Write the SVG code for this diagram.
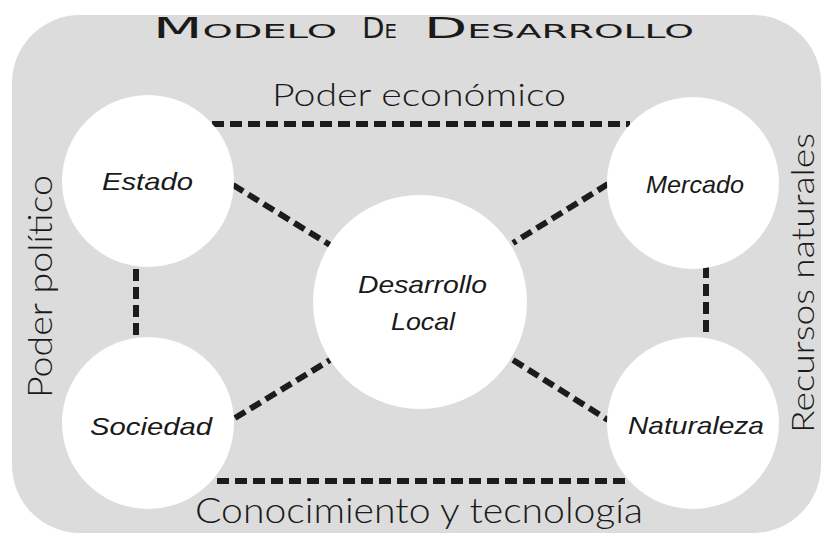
<svg xmlns="http://www.w3.org/2000/svg" width="822" height="533" viewBox="0 0 822 533">
  <style>
    .bg { fill: #dcdcdc; }
    .node { fill: #ffffff; }
    .dash { stroke: #1c1c1a; stroke-width: 6; stroke-dasharray: 12 6; fill: none; stroke-linecap: butt; }
    .lbl { font-family: "Liberation Sans", "DejaVu Sans", sans-serif; font-style: italic; font-size: 24px; fill: #1a1a1a; }
    .side { font-family: "Lato", "Liberation Sans", sans-serif; font-weight: 300; fill: #1a1a1a; }
    .title { font-family: "DejaVu Sans", "Liberation Sans", sans-serif; font-weight: normal; fill: #1a1a1a; }
    .big { font-size: 29px; }
    .small { font-size: 19.5px; }
  </style>
  <rect class="bg" x="12" y="15" width="809" height="518" rx="68" ry="68"/>

  <g id="title">
    <text class="title" x="153" y="38" textLength="184" lengthAdjust="spacingAndGlyphs"><tspan class="big">M</tspan><tspan class="small">ODELO</tspan></text>
    <text class="title" x="362" y="38" textLength="35" lengthAdjust="spacingAndGlyphs"><tspan class="big">D</tspan><tspan class="small">E</tspan></text>
    <text class="title" x="424" y="38" textLength="270" lengthAdjust="spacingAndGlyphs"><tspan class="big">D</tspan><tspan class="small">ESARROLLO</tspan></text>
  </g>

  <g id="connectors">
    <line class="dash" x1="212" y1="124" x2="630" y2="124"/>
    <line class="dash" x1="217" y1="481" x2="630" y2="481"/>
    <line class="dash" x1="136" y1="269" x2="136" y2="337"/>
    <line class="dash" x1="706" y1="266" x2="706" y2="338"/>
    <line class="dash" x1="233" y1="185" x2="330" y2="245"/>
    <line class="dash" x1="608" y1="184" x2="513" y2="243"/>
    <line class="dash" x1="235" y1="418" x2="330" y2="360"/>
    <line class="dash" x1="513" y1="360" x2="608" y2="420"/>
  </g>

  <g id="estado">
    <circle class="node" cx="148" cy="181" r="86"/>
    <text class="lbl" x="102" y="190" textLength="91" lengthAdjust="spacingAndGlyphs">Estado</text>
  </g>
  <g id="mercado">
    <circle class="node" cx="693" cy="183" r="86"/>
    <text class="lbl" x="646" y="193" textLength="98" lengthAdjust="spacingAndGlyphs">Mercado</text>
  </g>
  <g id="sociedad">
    <circle class="node" cx="148" cy="423" r="86"/>
    <text class="lbl" x="90" y="435" textLength="122" lengthAdjust="spacingAndGlyphs">Sociedad</text>
  </g>
  <g id="naturaleza">
    <circle class="node" cx="693" cy="423" r="86"/>
    <text class="lbl" x="628" y="434" textLength="136" lengthAdjust="spacingAndGlyphs">Naturaleza</text>
  </g>
  <g id="desarrollo-local">
    <circle class="node" cx="420" cy="302" r="107"/>
    <text class="lbl" x="358" y="293" textLength="129" lengthAdjust="spacingAndGlyphs">Desarrollo</text>
    <text class="lbl" x="391" y="330" textLength="64" lengthAdjust="spacingAndGlyphs">Local</text>
  </g>

  <g id="side-labels">
    <text class="side" x="272" y="106" font-size="32" textLength="294" lengthAdjust="spacingAndGlyphs">Poder económico</text>
    <text class="side" x="195" y="523" font-size="35" textLength="448" lengthAdjust="spacingAndGlyphs">Conocimiento y tecnología</text>
    <text class="side" transform="translate(52,398) rotate(-90)" x="0" y="0" font-size="33" textLength="223" lengthAdjust="spacingAndGlyphs">Poder político</text>
    <text class="side" transform="translate(814,433) rotate(-90)" x="0" y="0" font-size="31" textLength="300" lengthAdjust="spacingAndGlyphs">Recursos naturales</text>
  </g>
</svg>
